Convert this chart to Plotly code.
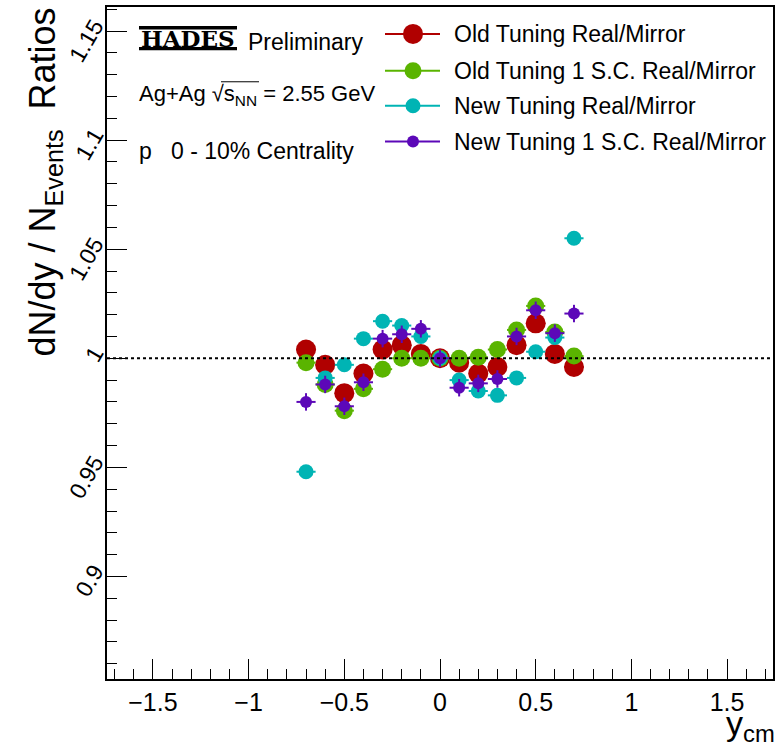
import plotly.graph_objects as go

# Rapidity bins (bin centres) and ratio values per tuning
y_cm = [-0.7, -0.6, -0.5, -0.4, -0.3, -0.2, -0.1, 0.0, 0.1, 0.2, 0.3, 0.4, 0.5, 0.6, 0.7]
bin_half_width = [0.05] * len(y_cm)

old_tuning = [1.004, 0.997, 0.984, 0.993, 1.004, 1.006, 1.002, 1.000, 0.998, 0.993, 0.996, 1.006, 1.016, 1.002, 0.996]
old_tuning_1sc = [0.998, 0.988, 0.976, 0.986, 0.995, 1.000, 1.000, 1.000, 1.000, 1.0005, 1.004, 1.013, 1.024, 1.012, 1.001]
new_tuning = [0.948, 0.991, 0.997, 1.009, 1.017, 1.015, 1.010, 1.000, 0.990, 0.985, 0.983, 0.991, 1.003, 1.0095, 1.055]
new_tuning_1sc = [0.980, 0.988, 0.978, 0.989, 1.009, 1.011, 1.0135, 1.000, 0.9865, 0.9885, 0.9905, 1.010, 1.022, 1.0115, 1.0205]
new_tuning_1sc_err = [0.004] * len(y_cm)

series_names = [
    "Old Tuning Real/Mirror",
    "Old Tuning 1 S.C. Real/Mirror",
    "New Tuning Real/Mirror",
    "New Tuning 1 S.C. Real/Mirror",
]
series_values = [old_tuning, old_tuning_1sc, new_tuning, new_tuning_1sc]
series_colors = ["#b00000", "#5ab400", "#00b4b4", "#5c08b8"]
marker_sizes = [20, 17, 15, 12]

x_range = [-1.74, 1.74]
y_range = [0.853, 1.161]

FONT = "Liberation Sans, Arial, Helvetica, sans-serif"

# Frame geometry in pixels (figure 781 x 749)
W, H = 781, 749
L, R, T, B = 107, 8, 5, 70
PW, PH = W - L - R, H - T - B


def px(x):
    return (x - L) / PW


def py(y):
    return (H - B - y) / PH


fig = go.Figure()

for name, vals, col, size in zip(series_names, series_values, series_colors, marker_sizes):
    err_y = None
    if vals is new_tuning_1sc:
        err_y = dict(type="data", array=new_tuning_1sc_err, color=col, thickness=2, width=0)
    fig.add_trace(go.Scatter(
        x=y_cm, y=vals, mode="markers", name=name,
        marker=dict(color=col, size=size, line=dict(width=0)),
        error_x=dict(type="data", array=bin_half_width, color=col, thickness=2, width=0),
        error_y=err_y,
        showlegend=False,
    ))

shapes = []
annotations = []

# Reference line at unity
shapes.append(dict(type="line", xref="paper", yref="y", x0=0, x1=1, y0=1, y1=1,
                   line=dict(color="black", width=2, dash="dot")))

# Legend: line through marker, then label
legend_rows = [32, 69, 104, 140]
for name, col, size, ry in zip(series_names, series_colors, marker_sizes, legend_rows):
    shapes.append(dict(type="line", xref="paper", yref="paper",
                       x0=px(385), x1=px(440), y0=py(ry), y1=py(ry),
                       line=dict(color=col, width=2)))
    shapes.append(dict(type="circle", xref="paper", yref="paper",
                       xsizemode="pixel", ysizemode="pixel",
                       xanchor=px(413), yanchor=py(ry),
                       x0=-size / 2, x1=size / 2, y0=-size / 2, y1=size / 2,
                       fillcolor=col, line=dict(width=0)))
    annotations.append(dict(text=name, xref="paper", yref="paper", x=px(452), y=py(ry),
                            xanchor="left", yanchor="middle", showarrow=False,
                            font=dict(family=FONT, size=23, color="black")))

# HADES logo: bold letters between two bars
shapes.append(dict(type="rect", xref="paper", yref="paper", x0=px(139), x1=px(237),
                   y0=py(27.5), y1=py(24), fillcolor="black", line=dict(width=0)))
shapes.append(dict(type="rect", xref="paper", yref="paper", x0=px(139), x1=px(237),
                   y0=py(48.5), y1=py(45), fillcolor="black", line=dict(width=0)))
annotations.append(dict(text="<b>HADES</b>", xref="paper", yref="paper", x=px(188), y=py(36.5),
                        xanchor="center", yanchor="middle", showarrow=False,
                        font=dict(family="DejaVu Serif", size=23, color="black")))
annotations.append(dict(text="Preliminary", xref="paper", yref="paper", x=px(246), y=py(40),
                        xanchor="left", yanchor="middle", showarrow=False,
                        font=dict(family=FONT, size=23, color="black")))
annotations.append(dict(text="Ag+Ag \u221as<sub>NN</sub> = 2.55 GeV", xref="paper", yref="paper",
                        x=px(137), y=py(93), xanchor="left", yanchor="middle", showarrow=False,
                        font=dict(family=FONT, size=22, color="black")))
# overline of the square root
shapes.append(dict(type="line", xref="paper", yref="paper", x0=px(221), x1=px(259),
                   y0=py(80), y1=py(80), line=dict(color="black", width=1)))
annotations.append(dict(text="p\u00a0\u00a0\u00a00 - 10% Centrality", xref="paper", yref="paper",
                        x=px(137), y=py(149), xanchor="left", yanchor="middle", showarrow=False,
                        font=dict(family=FONT, size=23, color="black")))

# Axis titles
annotations.append(dict(text="dN/dy / N<sub>Events</sub>  Ratios", xref="paper", yref="paper",
                        x=px(20), y=py(4), xanchor="left", yanchor="top", textangle=-90,
                        showarrow=False, font=dict(family=FONT, size=36, color="black")))
annotations.append(dict(text="y<sub>cm</sub>", xref="paper", yref="paper",
                        x=px(777), y=py(749), xanchor="right", yanchor="bottom",
                        showarrow=False, font=dict(family=FONT, size=34, color="black")))

axis_common = dict(showgrid=False, zeroline=False, showline=True, linewidth=2, linecolor="black",
                   mirror=True, ticks="inside", tickcolor="black", tickwidth=1, ticklen=20,
                   tickfont=dict(family=FONT, size=25, color="black"))

fig.update_layout(
    width=W, height=H,
    margin=dict(l=L, r=R, t=T, b=B),
    paper_bgcolor="white", plot_bgcolor="white",
    showlegend=False,
    xaxis=dict(range=x_range, tickmode="linear", tick0=0, dtick=0.5,
               minor=dict(dtick=0.1, tick0=0, ticks="inside", ticklen=10, tickwidth=1, tickcolor="black"),
               **axis_common),
    yaxis=dict(range=y_range, tickmode="linear", tick0=0.9, dtick=0.05, tickangle=-60,
               ticklabelshift=-8, ticklabelstandoff=6,
               minor=dict(dtick=0.01, tick0=0.9, ticks="inside", ticklen=10, tickwidth=1, tickcolor="black"),
               **{**axis_common, "tickfont": dict(family=FONT, size=23, color="black")}),
    shapes=shapes,
    annotations=annotations,
)

fig.write_html("out.html")
